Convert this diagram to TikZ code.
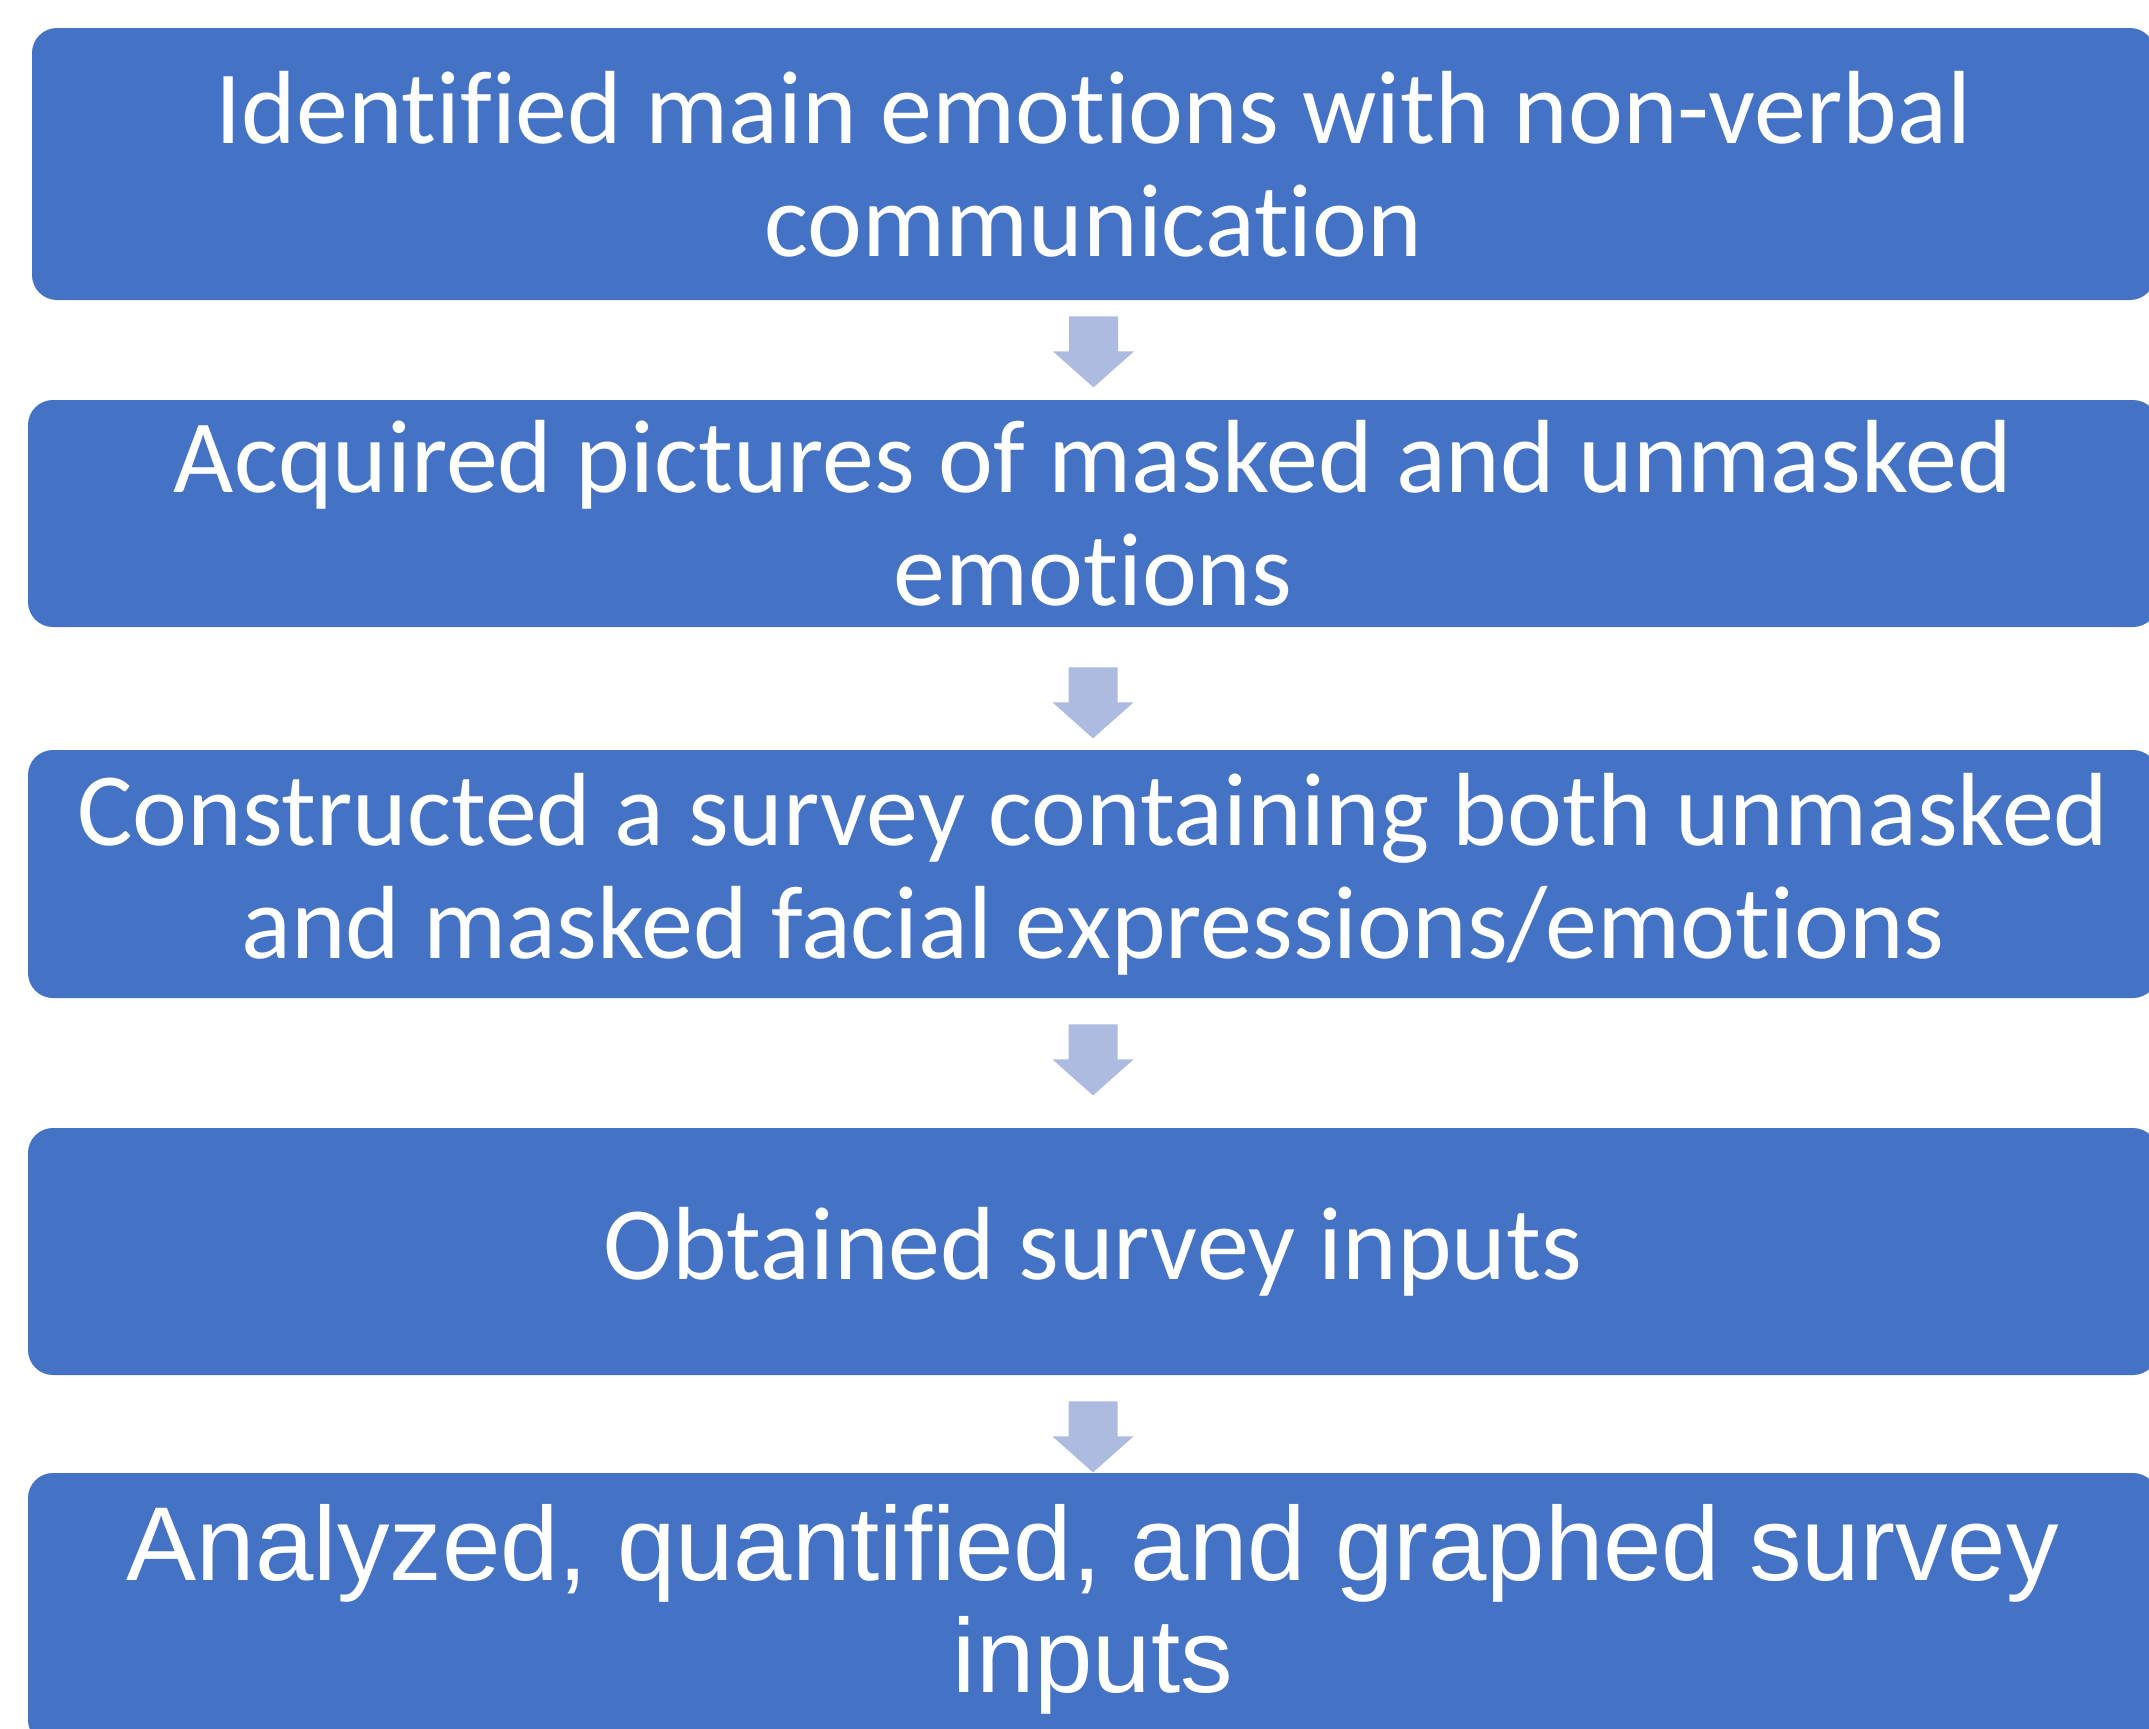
\documentclass[tikz,border=0pt]{standalone}
\usepackage{fontspec}
\setmainfont{Carlito}[Ligatures=NoCommon]
\newfontfamily\arialfont{Liberation Sans}
\usetikzlibrary{calc}

\definecolor{boxblue}{HTML}{4472C4}
\definecolor{arrowblue}{HTML}{ADBBE0}

\newcommand{\flowarrow}[2]{
    \fill[arrowblue, shift={($(#1.south)+(0,#2)$)}]
        (-24.5,0) -- (24.5,0) -- (24.5,35) -- (40.5,35) -- (0,71) -- (-40.5,35) -- (-24.5,35) -- cycle;
}
\tikzset{x=0.5pt, y=-0.5pt,
    stepbox/.style={fill=boxblue, text=white, rounded corners=12.5pt, align=center,
        minimum width=1065pt, inner sep=0pt, font=\fontsize{52}{56.5}\selectfont}}

\begin{document}
\begin{tikzpicture}
                \useasboundingbox (0,0) rectangle (2149,1729);
                \node[stepbox, minimum width=1061.5pt, minimum height=136pt] (identify) at (1093.5,164)
                    {Identified main emotions with non-verbal\\communication};
                \node[stepbox, minimum height=113.5pt] (acquire) at (1093,513.5)
                    {Acquired pictures of masked and unmasked\\emotions};
                \node[stepbox, minimum height=124pt] (construct) at (1093,874)
                    {Constructed a survey containing both unmasked\\and masked facial expressions/emotions};
                \node[stepbox, minimum height=123.5pt] (obtain) at (1093,1251.5)
                    {Obtained survey inputs};
                \node[stepbox, minimum height=136pt, font=\arialfont\fontsize{52.5}{56}\selectfont] (analyze) at (1093,1609)
                    {Analyzed, quantified, and graphed survey\\inputs};
                \flowarrow{identify}{16}
                \flowarrow{acquire}{40}
                \flowarrow{construct}{26}
                \flowarrow{obtain}{26}
            \end{tikzpicture}
\end{document}
